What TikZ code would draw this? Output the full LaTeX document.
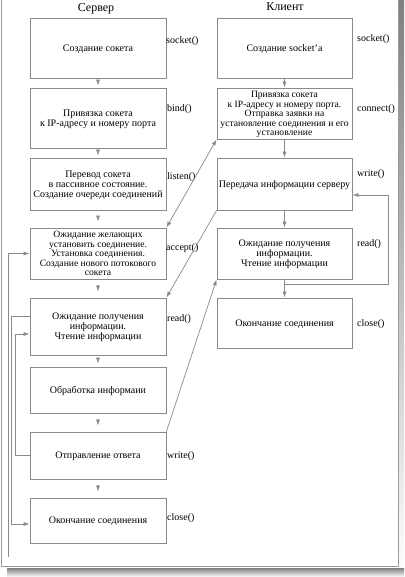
\documentclass[tikz,border=0pt]{standalone}
\usepackage{fontspec}
\setmainfont{Liberation Serif}
\usetikzlibrary{arrows.meta}
\definecolor{edge}{HTML}{8A8A8A}
\definecolor{frame}{HTML}{9A9A9A}
\definecolor{shade}{HTML}{CDCDCD}
\begin{document}
\begin{tikzpicture}[
            x = 1pt, y = -1pt,
            every node/.style={text depth=0pt, font=\fontsize{10}{10}\selectfont},
            >={Latex[length=6pt, width=4pt]},
            box/.style={draw=edge, line width=.8pt, minimum width=136pt, inner sep=0pt, align=center},
            tight/.style={font=\fontsize{9.6}{9.6}\selectfont},
            line/.style={draw=edge, line width=.7pt},
            flow/.style={line, ->},
            call/.style={anchor=west, inner sep=0pt},
            title/.style={font=\fontsize{12}{12}\selectfont},
            ]
        \useasboundingbox (0,0) rectangle (404,577);

        % frame and shadow
        \fill[shade] (399,0) rectangle (404,577);
        \fill[shade] (7,568) rectangle (404,577);
        \draw[frame, line width=1pt] (1.5,-2) -- (1.5,566) -- (398,566) -- (398,-2);

        \node[title] (srv) at (96,8) {Сервер};
        \node[title] (cli) at (285,7) {Клиент};

        % server
        \node[box, minimum height=60pt] (s1) at (98,48) {Создание сокета};
        \node[box, minimum height=60pt] (s2) at (98,118) {Привязка сокета\\к IP-адресу и номеру порта};
        \node[box, minimum height=52pt] (s3) at (98,184) {Перевод сокета\\в пассивное состояние.\\Создание очереди соединений};
        \node[box, tight, minimum height=51pt] (s4) at (98,253.5) {Ожидание желающих\\установить соединение.\\Установка соединения.\\Создание нового потокового\\сокета};
        \node[box, minimum height=57pt] (s5) at (98,326.5) {Ожидание получения\\информации.\\Чтение информации};
        \node[box, minimum height=46pt] (s6) at (98,390) {Обработка информаии};
        \node[box, minimum height=47pt] (s7) at (98,455.5) {Отправление ответа};
        \node[box, minimum height=45pt] (s8) at (98,520.5) {Окончание соединения};

        \node[call] (ssocket) at (166,40) {socket()};
        \node[call] (sbind) at (167,108) {bind()};
        \node[call] (slisten) at (167,176) {listen()};
        \node[call] (saccept) at (166,247) {accept()};
        \node[call] (sread) at (167,318) {read()};
        \node[call] (swrite) at (167,455) {write()};
        \node[call] (sclose) at (167,517) {close()};

        \foreach \a/\b/\g in {s1/s2/2, s2/s3/2, s3/s4/6, s4/s5/6, s5/s6/3, s6/s7/6, s7/s8/6}
            \draw[flow, shorten <=\g pt, shorten >=\g pt] (\a) -- (\b);

        % server loops
        \coordinate (sfree) at (8,557);
        \draw[flow] (sfree) |- (s4.west);
        \draw[flow] ([yshift=10.5pt]s5.west) -- ++(-18,0) |- ([yshift=-3.5pt]s8.west);
        \draw[flow] (s7.west) -- ++(-14,0) |- ([yshift=-7.5pt]s5.west);

        % client
        \node[box, minimum width=135pt, minimum height=60pt] (c1) at (284.5,48) {Создание socket'а};
        \node[box, tight, minimum width=135pt, minimum height=51pt] (c2) at (284.5,113.5) {Привязка сокета\\к IP-адресу и номеру порта.\\Отправка заявки на\\установление соединения и его\\установление};
        \node[box, minimum width=135pt, minimum height=52pt] (c3) at (284.5,184) {Передача информации серверу};
        \node[box, minimum width=135pt, minimum height=51pt] (c4) at (284.5,253.5) {Ожидание получения\\информации.\\Чтение информации};
        \node[box, minimum width=135pt, minimum height=50pt] (c5) at (284.5,323) {Окончание соединения};

        \node[call] (csocket) at (357,38) {socket()};
        \node[call] (cconnect) at (357,108) {connect()};
        \node[call] (cwrite) at (357,173) {write()};
        \node[call] (cread) at (357,243) {read()};
        \node[call] (cclose) at (357,323) {close()};

        \foreach \a/\b in {c1/c2, c2/c3, c3/c4, c4/c5}
            \draw[flow] (\a) -- (\b);

        % client loop
        \coordinate (cfork) at (284.5,284);
        \draw[flow] (cfork) -- ++(103.5,0) |- ([yshift=-11pt]c3.east);

        % between server and client
        \draw[line, <->] (s4.north east) -- (c2.south west);
        \draw[flow] (c3.south west) -- (s5.north east);
        \draw[flow] (s7.north east) -- (c4.south west);
    \end{tikzpicture}
\end{document}
